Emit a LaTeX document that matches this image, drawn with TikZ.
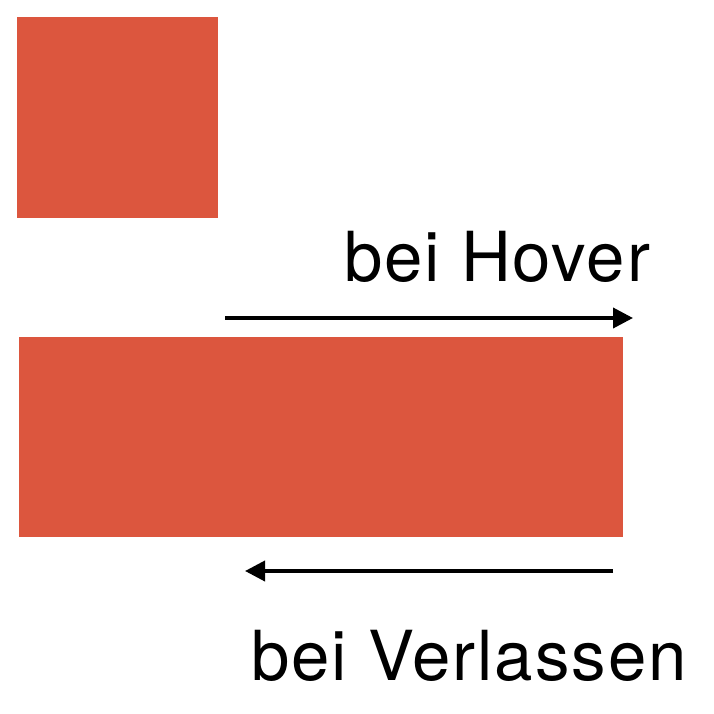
\documentclass[tikz,border=0pt]{standalone}
\usepackage{fontspec}
\setmainfont{TeX Gyre Heros}
\newfontfamily\lblfont{TeX Gyre Heros}[LetterSpace=2.8]
\usetikzlibrary{arrows.meta}
\definecolor{boxred}{RGB}{220,86,62}
\tikzset{
  box/.style={fill=boxred, draw=none, inner sep=0pt, anchor=north west},
  arr/.style={line width=3.8pt, -{Triangle[length=20pt,width=20pt]}},
  lbl/.style={anchor=base west, inner sep=0pt, font=\lblfont\fontsize{69}{80}\selectfont}
}
\begin{document}
\begin{tikzpicture}[x=1pt,y=-1pt]
\useasboundingbox (0,0) rectangle (714,714);
\node[box, minimum width=201pt, minimum height=201pt] (sq) at (17,17) {};
\node[box, minimum width=604pt, minimum height=200pt] (rect) at (19,337) {};
\coordinate (h1) at (225,318);
\coordinate (h2) at (633,318);
\coordinate (l1) at (613,571);
\coordinate (l2) at (245,571);
\draw[arr] (h1) -- (h2);
\draw[arr] (l1) -- (l2);
\node[lbl] (hover) at (344,281) {bei Hover};
\node[lbl] (leave) at (251,680) {bei Verlassen};
\end{tikzpicture}
\end{document}
